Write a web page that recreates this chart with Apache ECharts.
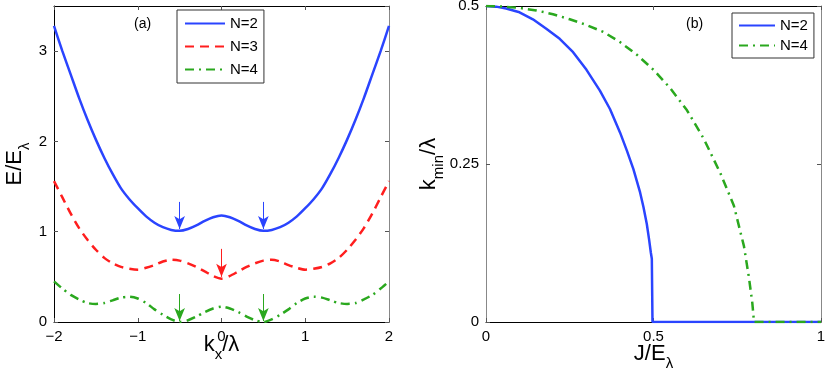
<!DOCTYPE html>
<html>
<head>
<meta charset="utf-8">
<script src="https://cdn.jsdelivr.net/npm/echarts@6/dist/echarts.min.js"></script>
<style>
  html, body { margin: 0; padding: 0; background: #fff; }
  #chart { width: 830px; height: 374px; }
</style>
</head>
<body>
<div id="chart"></div>
<script>
// panel (a): dispersion E/E_lambda vs k_x/lambda
const kx = [-2, -1.9, -1.8, -1.7, -1.6, -1.5, -1.4, -1.3, -1.2, -1.1, -1, -0.9, -0.8, -0.7, -0.6, -0.5, -0.4, -0.3, -0.2, -0.1,
  0, 0.1, 0.2, 0.3, 0.4, 0.5, 0.6, 0.7, 0.8, 0.9, 1, 1.1, 1.2, 1.3, 1.4, 1.5, 1.6, 1.7, 1.8, 1.9, 2]
const eN2 = [3.28, 3.00, 2.74, 2.48, 2.24, 2.02, 1.82, 1.64, 1.48, 1.36, 1.26, 1.17, 1.10, 1.05, 1.02, 1.01, 1.03, 1.07, 1.12, 1.16,
  1.18, 1.16, 1.12, 1.07, 1.03, 1.01, 1.02, 1.05, 1.10, 1.17, 1.26, 1.36, 1.48, 1.64, 1.82, 2.02, 2.24, 2.48, 2.74, 3.00, 3.28]
const eN3 = [1.56, 1.38, 1.20, 1.04, 0.91, 0.80, 0.71, 0.65, 0.61, 0.59, 0.58, 0.60, 0.63, 0.67, 0.69, 0.68, 0.65, 0.61, 0.56, 0.51,
  0.48, 0.51, 0.56, 0.61, 0.65, 0.68, 0.69, 0.67, 0.63, 0.60, 0.58, 0.59, 0.61, 0.65, 0.71, 0.80, 0.91, 1.04, 1.20, 1.38, 1.56]
const eN4 = [0.45, 0.37, 0.30, 0.25, 0.21, 0.20, 0.21, 0.24, 0.27, 0.28, 0.26, 0.21, 0.14, 0.08, 0.03, 0.00, 0.02, 0.06, 0.11, 0.15,
  0.17, 0.15, 0.11, 0.06, 0.02, 0.00, 0.03, 0.08, 0.14, 0.21, 0.26, 0.28, 0.27, 0.24, 0.21, 0.20, 0.21, 0.25, 0.30, 0.37, 0.45]

// arrows marking the minima: [k, from E, to E]
const arrowsN2 = [[-0.5, 1.33, 1.03], [0.5, 1.33, 1.03]]
const arrowsN3 = [[0, 0.81, 0.50]]
const arrowsN4 = [[-0.5, 0.31, 0.01], [0.5, 0.31, 0.01]]

// panel (b): k_min/lambda vs J/E_lambda
const jN2 = [0, 0.03, 0.06, 0.10, 0.14, 0.18, 0.22, 0.26, 0.30, 0.34, 0.37, 0.40, 0.42, 0.44, 0.46, 0.47, 0.48, 0.487, 0.492, 0.495, 0.497, 1.0]
const kminN2 = [0.5, 0.499, 0.496, 0.49, 0.479, 0.464, 0.448, 0.427, 0.399, 0.366, 0.337, 0.30, 0.272, 0.242, 0.205, 0.182, 0.155, 0.13, 0.11, 0.10, 0, 0]
const jN4 = [0, 0.05, 0.1, 0.15, 0.2, 0.25, 0.3, 0.35, 0.4, 0.45, 0.5, 0.55, 0.6, 0.65, 0.7, 0.74, 0.77, 0.785, 0.795, 0.8, 1.0]
const kminN4 = [0.5, 0.499, 0.497, 0.493, 0.487, 0.479, 0.47, 0.459, 0.443, 0.423, 0.399, 0.37, 0.335, 0.29, 0.235, 0.184, 0.12, 0.07, 0.03, 0, 0]

const BLUE = '#2a44ff'
const RED = '#ff1e1e'
const GREEN = '#2aa81e'
const FONT = 'Liberation Sans, Arial, sans-serif'

const pairs = (xs, ys) => xs.map((x, i) => [x, ys[i]])
const arrowLines = arrows => arrows.map(a => [{ coord: [a[0], a[1]] }, { coord: [a[0], a[2]] }])
const minus = v => (v < 0 ? '\u2212' + (-v) : String(v))

const nameRich = {
	m: { fontSize: 22, fontFamily: FONT, color: '#000', lineHeight: 28, verticalAlign: 'top' },
	s: { fontSize: 15, fontFamily: FONT, color: '#000', lineHeight: 28, verticalAlign: 'bottom' }
}

function frameAxis(gridIndex, pos, min, max, interval, extra) {
	const side = pos === 'top' || pos === 'right'
	return Object.assign({
		type: 'value',
		gridIndex: gridIndex,
		position: pos,
		min: min,
		max: max,
		interval: interval,
		splitLine: { show: false },
		axisLine: { show: true, onZero: false, lineStyle: { color: side ? '#888' : '#000', width: 1 } },
		axisTick: { show: true, inside: true, length: 4, lineStyle: { color: '#555' } },
		axisLabel: side ? { show: false } : {
			color: '#000', fontSize: 15, fontFamily: FONT, margin: 7, formatter: minus
		}
	}, extra || {})
}

function lineSeries(name, data, color, type, xi, yi, arrows) {
	const s = {
		name: name,
		type: 'line',
		xAxisIndex: xi,
		yAxisIndex: yi,
		data: data,
		symbol: 'none',
		smooth: 0.25,
		lineStyle: { color: color, width: 2.5, type: type },
		itemStyle: { color: color },
		z: 3
	}
	if (arrows) {
		s.markLine = {
			silent: true,
			symbol: ['none', 'arrow'],
			symbolSize: [8, 13],
			label: { show: false },
			lineStyle: { color: color, width: 1, type: 'solid' },
			data: arrowLines(arrows)
		}
	}
	return s
}

const legendBase = {
	orient: 'vertical',
	itemHeight: 14,
	borderColor: '#333', borderWidth: 1, borderRadius: 0,
	backgroundColor: '#fff',
	itemStyle: { opacity: 0 },
	textStyle: { fontSize: 15, fontFamily: FONT, color: '#000' },
	selectedMode: false
}

const chart = echarts.init(document.getElementById('chart'))

const option = {
	animation: false,
	backgroundColor: '#fff',
	grid: [
		{ left: 54, top: 6, width: 335, height: 316, containLabel: false, outerBoundsMode: 'none' },
		{ left: 486, top: 6, width: 335, height: 316, containLabel: false, outerBoundsMode: 'none' }
	],
	xAxis: [
		frameAxis(0, 'bottom', -2, 2, 1, {
			name: '{m|k}{s|x}{m|/λ}', nameLocation: 'middle', nameGap: 12, nameMoveOverlap: false,
			nameTextStyle: { rich: nameRich }
		}),
		frameAxis(0, 'top', -2, 2, 1, { axisLine: { show: true, onZero: false, lineStyle: { color: '#000' } } }),
		frameAxis(1, 'bottom', 0, 1, 0.5, {
			name: '{m|J/E}{s|λ}', nameLocation: 'middle', nameGap: 21, nameMoveOverlap: false,
			nameTextStyle: { rich: nameRich }
		}),
		frameAxis(1, 'top', 0, 1, 0.5, { axisLine: { show: true, onZero: false, lineStyle: { color: '#000' } } })
	],
	yAxis: [
		frameAxis(0, 'left', 0, 3.5, 1, {
			name: '{m|E/E}{s|λ}', nameLocation: 'middle', nameGap: 22,
			nameTextStyle: { rich: nameRich }
		}),
		frameAxis(0, 'right', 0, 3.5, 1),
		frameAxis(1, 'left', 0, 0.5, 0.25, {
			name: '{m|k}{s|min}{m|/λ}', nameLocation: 'middle', nameGap: 32,
			nameTextStyle: { rich: nameRich },
			axisLine: { show: true, onZero: false, lineStyle: { color: '#888' } }
		}),
		frameAxis(1, 'right', 0, 0.5, 0.25)
	],
	legend: [
		Object.assign({}, legendBase, {
			left: 177, top: 10,
			data: ['N=2', 'N=3', 'N=4'],
			itemWidth: 40, itemGap: 8,
			padding: [6, 6, 6, 7]
		}),
		Object.assign({}, legendBase, {
			left: 732, top: 13,
			data: ['N=2', 'N=4'],
			itemWidth: 36, itemGap: 5,
			padding: [5, 6, 5, 6]
		})
	],
	graphic: [
		{ type: 'text', left: 134, top: 17, style: { text: '(a)', fontSize: 14, fontFamily: FONT, fill: '#000' } },
		{ type: 'text', left: 686, top: 17, style: { text: '(b)', fontSize: 14, fontFamily: FONT, fill: '#000' } }
	],
	series: [
		lineSeries('N=2', pairs(kx, eN2), BLUE, 'solid', 0, 0, arrowsN2),
		lineSeries('N=3', pairs(kx, eN3), RED, [9, 6], 0, 0, arrowsN3),
		lineSeries('N=4', pairs(kx, eN4), GREEN, [9, 5, 2, 5], 0, 0, arrowsN4),
		Object.assign(lineSeries('N=2', pairs(jN2, kminN2), BLUE, 'solid', 2, 2), { smooth: false }),
		Object.assign(lineSeries('N=4', pairs(jN4, kminN4), GREEN, [9, 5, 2, 5], 2, 2), { smooth: false })
	]
}

option.yAxis[0].axisLabel.showMaxLabel = false

chart.setOption(option)
</script>
</body>
</html>
